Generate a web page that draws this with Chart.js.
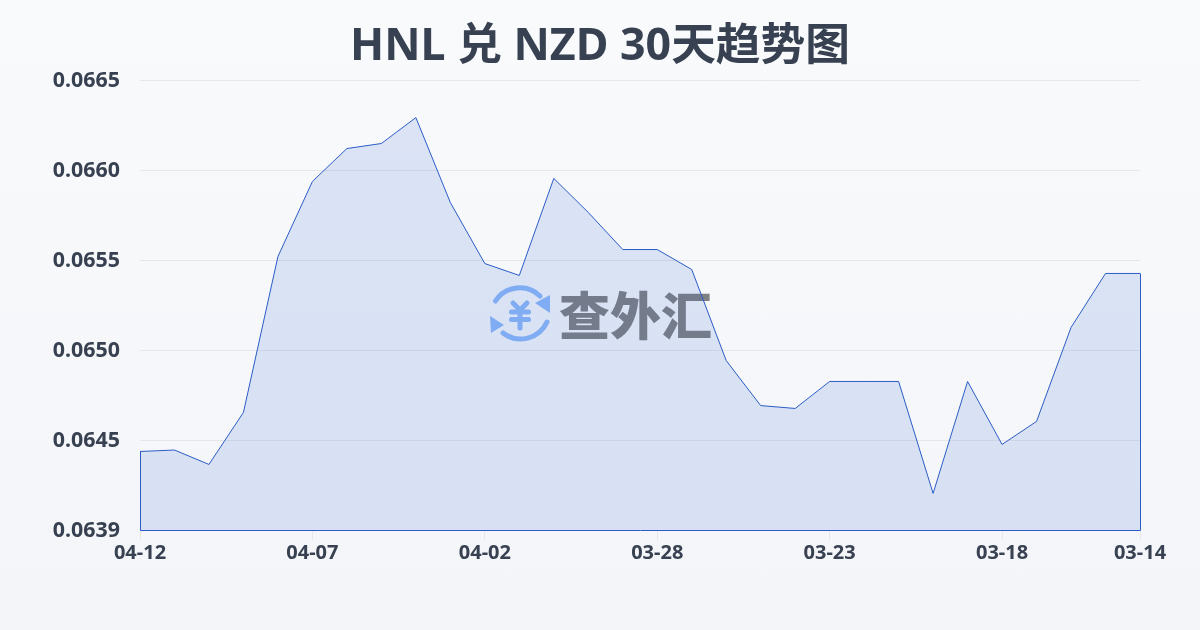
<!DOCTYPE html>
<html>
<head>
<meta charset="utf-8">
<title>HNL 兑 NZD 30天趋势图</title>
<script src="https://cdn.jsdelivr.net/npm/chart.js@4"></script>
<style>
    html, body { margin: 0; padding: 0; }
    body { width: 1200px; height: 630px; overflow: hidden; position: relative; background: linear-gradient(180deg, #f9fafc 0%, #f3f5f8 100%); }
    #chart { position: absolute; left: 0; top: 0; }
    #logo { position: absolute; left: 485px; top: 280px; }
    #brand { position: absolute; left: 559px; top: 277px; font: 900 51px/72px "Noto Sans CJK SC", sans-serif; color: #818181; letter-spacing: 0; white-space: nowrap; }
</style>
</head>
<body>
<svg id="logo" width="70" height="70" viewBox="0 0 70 70" fill="none">
    <g stroke="#8fb8f8" stroke-width="5" stroke-linecap="round">
        <path d="M10.5 21 A29 29 0 0 1 55 16"/>
        <path d="M62 42 A29 29 0 0 1 18 53"/>
    </g>
    <path d="M50 23 L65 15 L65 33 Z" fill="#8fb8f8"/>
    <path d="M5 36 L19 45 L6 53 Z" fill="#8fb8f8"/>
    <g stroke="#8fb8f8" stroke-width="5" stroke-linecap="round" stroke-linejoin="round">
        <path d="M28 23 L35 30 L42 23"/>
        <path d="M26.5 32 L43.5 32"/>
        <path d="M26.5 39.5 L43.5 39.5"/>
        <path d="M35 30 L35 48"/>
    </g>
</svg>
<div id="brand">查外汇</div>
<canvas id="chart" width="1200" height="630"></canvas>
<script>
const dates = ["04-12", "04-11", "04-10", "04-09", "04-08", "04-07", "04-06", "04-05", "04-04", "04-03",
    "04-02", "04-01", "03-31", "03-30", "03-29", "03-28", "03-27", "03-26", "03-25", "03-24",
    "03-23", "03-22", "03-21", "03-20", "03-19", "03-18", "03-17", "03-16", "03-15", "03-14"];
const rates = [0.064439, 0.064447, 0.064367, 0.064656, 0.065522, 0.065939, 0.066122, 0.06615, 0.066294, 0.065822,
    0.065483, 0.065417, 0.065956, 0.065767, 0.065561, 0.065561, 0.06545, 0.064944, 0.064694, 0.064678,
    0.064828, 0.064828, 0.064828, 0.064206, 0.064828, 0.064478, 0.064606, 0.065128, 0.065428, 0.065428];
const xTickLabels = ["04-12", "04-07", "04-02", "03-28", "03-23", "03-18", "03-14"];
const yTickLabels = ["0.0639", "0.0645", "0.0650", "0.0655", "0.0660", "0.0665"];

const lineColor = "#2b5cc5";
const textColor = "#374151";
const mainFont = '"Noto Sans", "Noto Sans CJK SC", sans-serif';

// the line dataset only strokes the top, the original also outlines the filled area
const outlinePlugin = {
    id: "outline",
    afterDatasetsDraw(chart) {
        const pts = chart.getDatasetMeta(0).data;
        const first = pts[0];
        const last = pts[pts.length - 1];
        const bottom = Math.floor(chart.chartArea.bottom) + 0.5;
        const ctx = chart.ctx;
        ctx.save();
        ctx.strokeStyle = lineColor;
        ctx.lineWidth = 1;
        ctx.beginPath();
        ctx.moveTo(Math.floor(first.x) + 0.5, first.y);
        ctx.lineTo(Math.floor(first.x) + 0.5, bottom);
        ctx.lineTo(Math.floor(last.x) + 0.5, bottom);
        ctx.lineTo(Math.floor(last.x) + 0.5, last.y);
        ctx.stroke();
        ctx.restore();
    }
};

new Chart(document.getElementById("chart"), {
    type: "line",
    data: {
        labels: dates,
        datasets: [{
            data: rates,
            borderColor: lineColor,
            borderWidth: 1,
            backgroundColor: "rgba(45, 97, 214, 0.14)",
            fill: "start",
            tension: 0,
            pointRadius: 0
        }]
    },
    options: {
        responsive: false,
        animation: false,
        plugins: {
            legend: { display: false },
            tooltip: { enabled: false },
            title: {
                display: true,
                text: "HNL 兑 NZD 30天趋势图",
                color: textColor,
                font: { family: mainFont, size: 44.7, weight: "bold", lineHeight: 1.2 },
                padding: { top: 20, bottom: 6.86 }
            }
        },
        scales: {
            x: {
                offset: false,
                border: { display: false },
                grid: { drawOnChartArea: false, drawTicks: true, tickLength: 10, tickColor: "#e5e7eb" },
                afterBuildTicks(scale) {
                    scale.ticks = scale.ticks.filter(t => xTickLabels.includes(dates[t.value]));
                },
                afterFit(scale) { scale.height = 99.5; },
                ticks: {
                    autoSkip: false,
                    maxRotation: 0,
                    padding: 1,
                    color: textColor,
                    font: { family: mainFont, size: 20, weight: "bold" },
                    callback(value) { return dates[value]; }
                }
            },
            y: {
                min: 0.064,
                max: 0.0665,
                border: { display: false },
                grid: { color: "#e5e7eb", drawTicks: false },
                afterFit(scale) { scale.width = 140; },
                ticks: {
                    stepSize: 0.0005,
                    padding: 20,
                    color: textColor,
                    font: { family: mainFont, size: 21.4, weight: "bold" },
                    callback(value, index) { return yTickLabels[index]; }
                }
            },
            // empty axis holds the right margin so the title stays centred on the page
            spacer: {
                type: "linear",
                position: "right",
                border: { display: false },
                grid: { display: false },
                ticks: { display: false },
                afterFit(scale) { scale.width = 60; }
            }
        }
    },
    plugins: [outlinePlugin]
});
</script>
</body>
</html>
